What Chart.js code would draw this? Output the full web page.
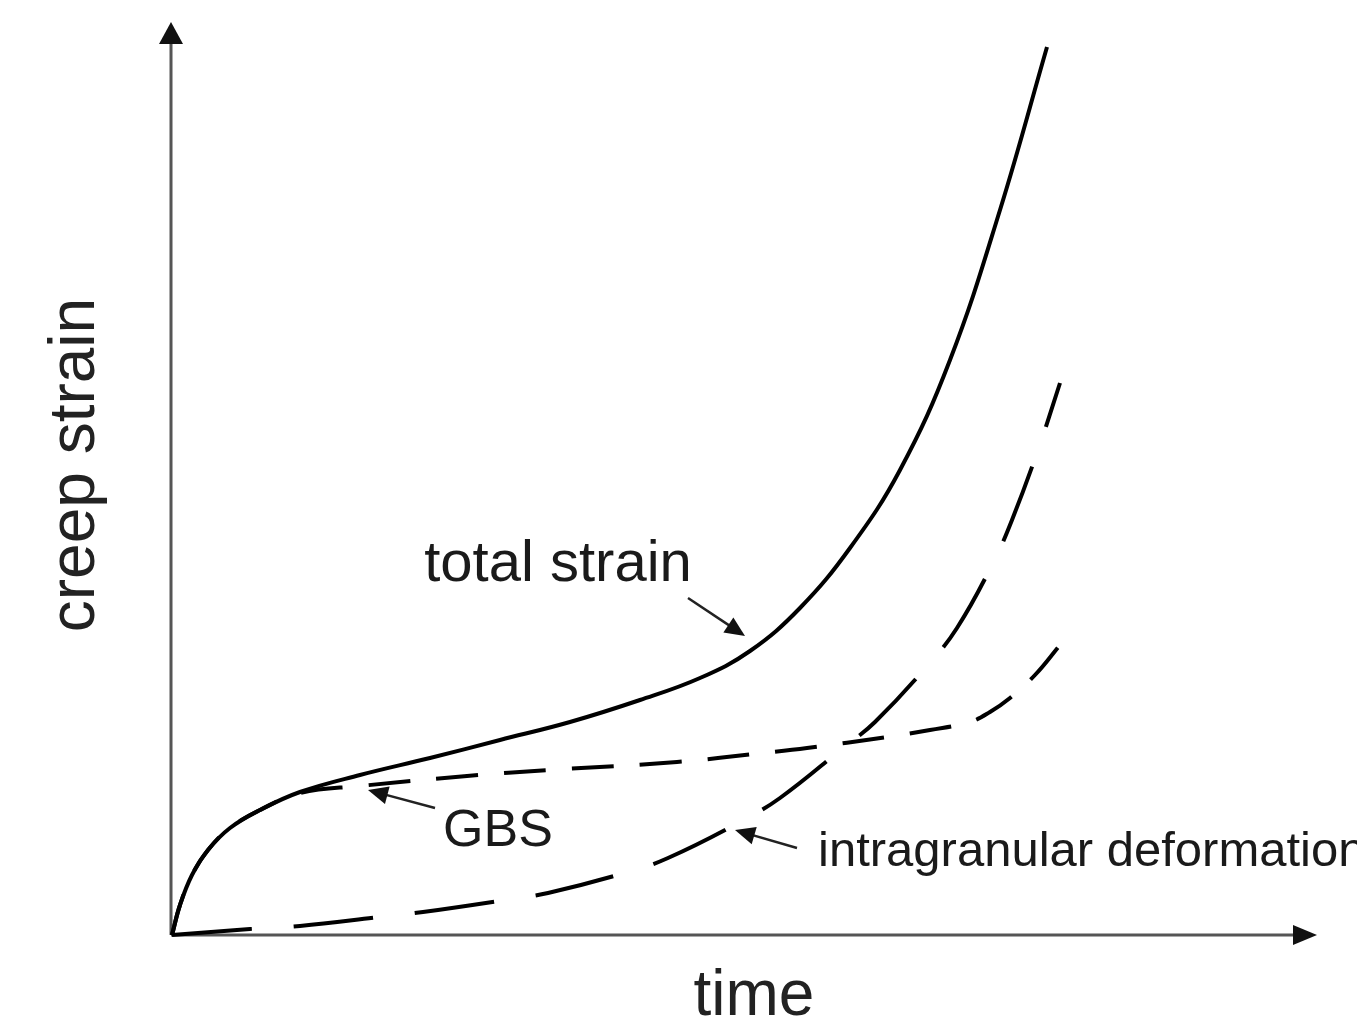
<!DOCTYPE html>
<html>
<head>
<meta charset="utf-8">
<script src="https://cdn.jsdelivr.net/npm/chart.js@4/dist/chart.umd.min.js"></script>
<style>
  html, body { margin: 0; padding: 0; background: #fff; overflow: hidden; }
  #wrap { width: 1357px; height: 1026px; position: relative; }
</style>
</head>
<body>
<div id="wrap"><canvas id="creepChart"></canvas></div>
<script>
// Schematic creep curve, arbitrary units (time on x, strain on y)
const totalStrainX = [0, 8, 20, 36, 58, 88, 128, 188, 258, 328, 398, 468, 528, 578, 628, 678, 728, 778, 828, 875];
const totalStrainY = [0, 30, 60, 85, 107, 125, 143, 160, 177, 195, 213, 235, 257, 284, 327, 387, 465, 575, 725, 888];

const gbsX = [0, 8, 20, 36, 58, 88, 128, 188, 295, 378, 505, 591, 635, 715, 758, 798, 818, 838, 863, 888];
const gbsY = [0, 30, 60, 85, 107, 125, 142, 149, 159, 165, 173, 182, 187, 198, 205, 213, 223, 237, 260, 290];

const intraX = [0, 78, 128, 208, 251, 333, 376, 456, 496, 568, 608, 671, 703, 756, 785, 821, 840, 866, 888];
const intraY = [0, 6, 9, 18, 23, 35, 42, 63, 77, 113, 137, 187, 213, 270, 307, 372, 415, 485, 552];

// Callout labels: text, label anchor, arrow tail, arrow head (data units)
const labels = [
  { text: 'total strain', x: 386, y: 370, tail: [516, 337], head: [573, 299], size: 58 },
  { text: 'GBS', x: 326, y: 103, tail: [263, 127], head: [196, 145], size: 52 },
  { text: 'intragranular deformation', x: 646, y: 83, align: 'left', tail: [625, 87], head: [563, 105], size: 49 }
];

function toPoints(xs, ys) {
  return xs.map((x, i) => ({ x: x, y: ys[i] }));
}

function drawArrowHead(ctx, x1, y1, x2, y2, len, half) {
  const a = Math.atan2(y2 - y1, x2 - x1);
  ctx.beginPath();
  ctx.moveTo(x2, y2);
  ctx.lineTo(x2 - len * Math.cos(a) + half * Math.sin(a), y2 - len * Math.sin(a) - half * Math.cos(a));
  ctx.lineTo(x2 - len * Math.cos(a) - half * Math.sin(a), y2 - len * Math.sin(a) + half * Math.cos(a));
  ctx.closePath();
  ctx.fill();
}

const decorPlugin = {
  id: 'decor',
  beforeDatasetsDraw(chart) {
    const ctx = chart.ctx;
    const area = chart.chartArea;
    ctx.save();
    // axes with arrow heads
    ctx.strokeStyle = '#555';
    ctx.fillStyle = '#111';
    ctx.lineWidth = 3;
    ctx.beginPath();
    ctx.moveTo(area.left - 1, area.bottom);
    ctx.lineTo(area.left - 1, area.top + 10);
    ctx.moveTo(area.left - 1, area.bottom);
    ctx.lineTo(area.right - 5, area.bottom);
    ctx.stroke();
    drawArrowHead(ctx, area.left - 1, area.bottom, area.left - 1, area.top - 8, 22, 12);
    drawArrowHead(ctx, area.left, area.bottom, area.right + 7, area.bottom, 24, 10);

    // axis titles
    ctx.fillStyle = '#222';
    ctx.font = '64px "Liberation Sans", Arial, sans-serif';
    ctx.textAlign = 'center';
    ctx.textBaseline = 'middle';
    ctx.fillText('time', 754, 997);
    ctx.save();
    ctx.translate(76, 465);
    ctx.rotate(-Math.PI / 2);
    ctx.fillText('creep strain', 0, 0);
    ctx.restore();
    ctx.restore();
  },
  afterDatasetsDraw(chart) {
    const ctx = chart.ctx;
    const xs = chart.scales.x, ys = chart.scales.y;
    ctx.save();
    labels.forEach(l => {
      ctx.fillStyle = '#1a1a1a';
      ctx.font = l.size + 'px "Liberation Sans", Arial, sans-serif';
      ctx.textAlign = l.align || 'center';
      ctx.textBaseline = 'middle';
      ctx.fillText(l.text, xs.getPixelForValue(l.x), ys.getPixelForValue(l.y));
      const tx = xs.getPixelForValue(l.tail[0]), ty = ys.getPixelForValue(l.tail[1]);
      const hx = xs.getPixelForValue(l.head[0]), hy = ys.getPixelForValue(l.head[1]);
      ctx.strokeStyle = '#222';
      ctx.fillStyle = '#111';
      ctx.lineWidth = 2.5;
      ctx.beginPath();
      ctx.moveTo(tx, ty);
      ctx.lineTo(hx - (hx - tx) * 0.2, hy - (hy - ty) * 0.2);
      ctx.stroke();
      drawArrowHead(ctx, tx, ty, hx, hy, 20, 9);
    });
    ctx.restore();
  }
};

new Chart(document.getElementById('creepChart'), {
  type: 'line',
  data: {
    datasets: [
      {
        label: 'total strain',
        data: toPoints(totalStrainX, totalStrainY),
        borderColor: '#000',
        borderWidth: 4,
        pointRadius: 0,
        tension: 0.4,
        fill: false
      },
      {
        label: 'GBS',
        data: toPoints(gbsX, gbsY),
        borderColor: '#000',
        borderWidth: 4,
        borderDash: [42, 26],
        pointRadius: 0,
        tension: 0.4,
        fill: false
      },
      {
        label: 'intragranular deformation',
        data: toPoints(intraX, intraY),
        borderColor: '#000',
        borderWidth: 4,
        borderDash: [80, 42],
        pointRadius: 0,
        tension: 0.4,
        fill: false
      }
    ]
  },
  options: {
    responsive: true,
    maintainAspectRatio: false,
    animation: false,
    layout: { padding: { left: 172, right: 47, top: 30, bottom: 91 } },
    plugins: {
      legend: { display: false },
      tooltip: { enabled: false }
    },
    scales: {
      x: { type: 'linear', min: 0, max: 1138, display: false },
      y: { type: 'linear', min: 0, max: 905, display: false }
    },
    elements: { line: { borderCapStyle: 'butt' } },
    clip: false
  },
  plugins: [decorPlugin]
});
</script>
</body>
</html>
